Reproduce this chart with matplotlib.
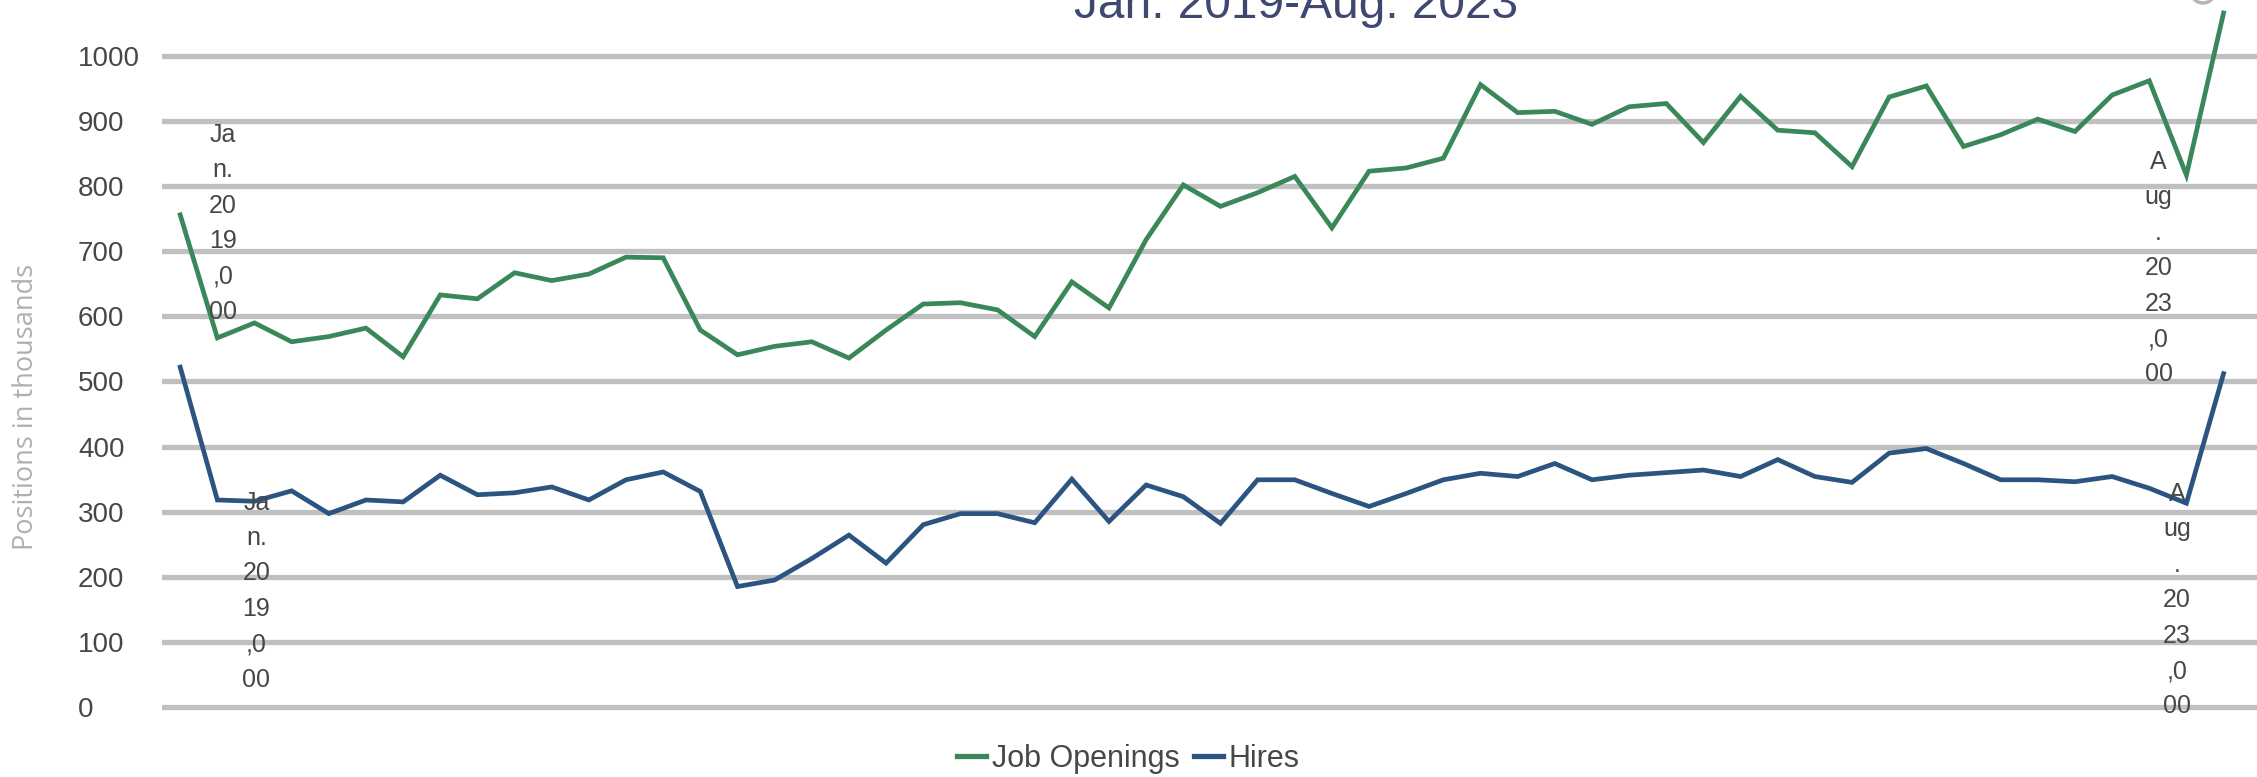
"""
Job openings vs hires, Jan. 2019 - Aug. 2023 (positions in thousands)
"""

import numpy as np
import matplotlib
matplotlib.use("Agg")
import matplotlib.pyplot as plt
from matplotlib.patches import Circle
from matplotlib.lines import Line2D

# ------------------------- DATA -------------------------
months = [f"{m} {y}" for y in range(2019, 2024)
          for m in ["Jan", "Feb", "Mar", "Apr", "May", "Jun",
                    "Jul", "Aug", "Sep", "Oct", "Nov", "Dec"]][:56]

job_openings = [756, 567, 590, 561, 569, 582, 538, 633, 627, 667,
                655, 665, 691, 690, 579, 541, 554, 561, 536, 579,
                619, 621, 610, 569, 653, 613, 718, 802, 769, 790,
                815, 736, 823, 828, 843, 956, 913, 915, 895, 922,
                927, 867, 938, 886, 882, 830, 937, 954, 861, 879,
                903, 884, 940, 962, 817, 1066]

hires = [522, 318, 316, 332, 297, 318, 315, 356, 326, 329,
         338, 318, 349, 361, 331, 185, 195, 228, 264, 221,
         280, 297, 297, 283, 350, 285, 341, 323, 282, 349,
         349, 328, 308, 328, 349, 359, 354, 374, 349, 356,
         360, 364, 354, 380, 354, 345, 390, 397, 374, 349,
         349, 346, 354, 336, 313, 512]

yticks = list(range(0, 1001, 100))
series_names = ["Job Openings", "Hires"]
title = "Jan. 2019-Aug. 2023"
ylabel = "Positions in thousands"
# stray data labels as they appear (wrapped category text)
label_first = "Ja\nn.\n20\n19\n,0\n00"
label_last = "A\nug\n.\n20\n23\n,0\n00"
# ---------------------------------------------------------

GREEN = "#3a875a"
NAVY = "#2b5580"
GRID = "#c0c0c0"
TXT = "#474747"

plt.rcParams["font.family"] = ["Liberation Sans", "DejaVu Sans"]

W, H, DPI = 2257, 777, 100
fig = plt.figure(figsize=(W / DPI, H / DPI), dpi=DPI)
ax = fig.add_axes([162 / W, 1 - 720 / H, 1 - 162 / W, 720 / H])

x = np.arange(len(months))
ax.plot(x, job_openings, color=GREEN, lw=3.4, solid_joinstyle="miter", zorder=3)
ax.plot(x, hires, color=NAVY, lw=3.4, solid_joinstyle="miter", zorder=3)

ax.set_xlim(-0.49, 55.9)
ax.set_ylim(-20, 1086)
ax.set_yticks(yticks)
ax.set_yticklabels([str(v) for v in yticks])
ax.set_xticks([])
ax.grid(axis="y", color=GRID, lw=3.8, zorder=0)
ax.set_axisbelow(True)
for s in ax.spines.values():
    s.set_visible(False)
ax.tick_params(axis="y", length=0, pad=60.5, labelsize=20, labelcolor=TXT)
for t in ax.get_yticklabels():
    t.set_horizontalalignment("left")

# wrapped data labels at first / last month
lab_kw = dict(ha="center", va="center", fontsize=18, color=TXT,
              linespacing=1.6, zorder=4)
ax.text(1.15, 743, label_first, **lab_kw)
ax.text(2.05, 178, label_first, **lab_kw)
ax.text(53.25, 674, label_last, **lab_kw)
ax.text(53.75, 164, label_last, **lab_kw)

# title (cut off at the top in the source)
fig.text(1296.5 / W, 1 - 17.5 / H, title, ha="center", va="baseline",
         fontsize=34.5, color="#3e4870")

fig.text(26 / W, 1 - 407 / H, ylabel, rotation=90, ha="center", va="center",
         fontsize=19.5, color="#b0b0b0", family=["Open Sans", "DejaVu Sans"])

handles = [Line2D([], [], color=GREEN, lw=3.8), Line2D([], [], color=NAVY, lw=3.8)]
fig.legend(handles, series_names, loc="center", bbox_to_anchor=(0.5, 1 - 759 / H),
           ncol=2, frameon=False, fontsize=22, labelcolor=TXT,
           handlelength=0.95, handletextpad=0.2, columnspacing=0.45)

# little grey icon peeking in at the top right corner (display coords, origin bottom-left)
fig.patches.append(Circle((2203, H + 9), 12, transform=None, fill=False,
                          edgecolor="#b5b5b5", lw=2.5))

fig.savefig("out.png", dpi=DPI)
